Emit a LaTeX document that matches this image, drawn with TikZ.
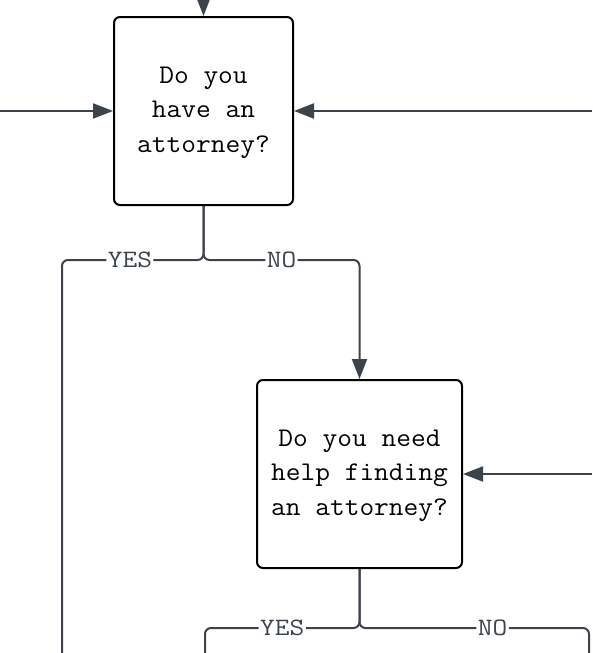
\documentclass[tikz,border=0pt]{standalone}
\usepackage{fontspec}
\newfontfamily\boxfont[FakeStretch=1.06]{Latin Modern Mono}
\newfontfamily\labfont[FakeStretch=1.14]{Latin Modern Mono}
\usetikzlibrary{arrows.meta}
\definecolor{linecol}{HTML}{3D434B}
\newcommand{\qtext}[1]{\raisebox{-3pt}{\begin{tabular}{@{}c@{}}#1\end{tabular}}}
\begin{document}
\begin{tikzpicture}[x=1pt,y=-1pt,
  qbox/.style={draw=black, line width=2pt, rounded corners=6pt, fill=white,
    align=center, inner sep=0pt, font=\fontsize{27}{34.5}\boxfont},
  conn/.style={draw=linecol, line width=2pt, rounded corners=6pt},
  arr/.style={conn, -{Triangle[length=20pt,width=15pt]}},
  lab/.style={fill=white, inner sep=1.5pt, text=linecol,
    font=\fontsize{25}{25}\labfont}]
\useasboundingbox (0,0) rectangle (592,653);
\node[qbox, minimum width=179pt, minimum height=188pt] (b1) at (203.5,111)
  {\qtext{Do you\\have an\\attorney?}};
\node[qbox, minimum width=205pt, minimum height=188pt] (b2) at (359.5,474)
  {\qtext{Do you need\\help finding\\an attorney?}};
\coordinate (top) at (203.5,0);
\coordinate (left1) at (0,111);
\coordinate (right1) at (592,111);
\coordinate (right2) at (592,474);
\coordinate (j1) at (203.5,260);
\coordinate (yes1end) at (62,653);
\coordinate (j2) at (359.5,628);
\coordinate (yes2end) at (205,653);
\coordinate (no2end) at (589,653);
\draw[arr] (top) -- (b1.north);
\draw[arr] (left1) -- (b1.west);
\draw[arr] (right1) -- (b1.east);
\draw[arr] (right2) -- (b2.east);
\draw[conn] (b1.south) -- (j1) -- (yes1end |- j1)
  node[lab, pos=0.52] {YES} -- (yes1end);
\draw[arr] (b1.south) -- (j1) -- (b2.north |- j1)
  node[lab, pos=0.5] {NO} -- (b2.north);
\draw[conn] (b2.south) -- (j2) -- (yes2end |- j2)
  node[lab, pos=0.5] {YES} -- (yes2end);
\draw[conn] (b2.south) -- (j2) -- (no2end |- j2)
  node[lab, pos=0.58] {NO} -- (no2end);
\end{tikzpicture}
\end{document}
